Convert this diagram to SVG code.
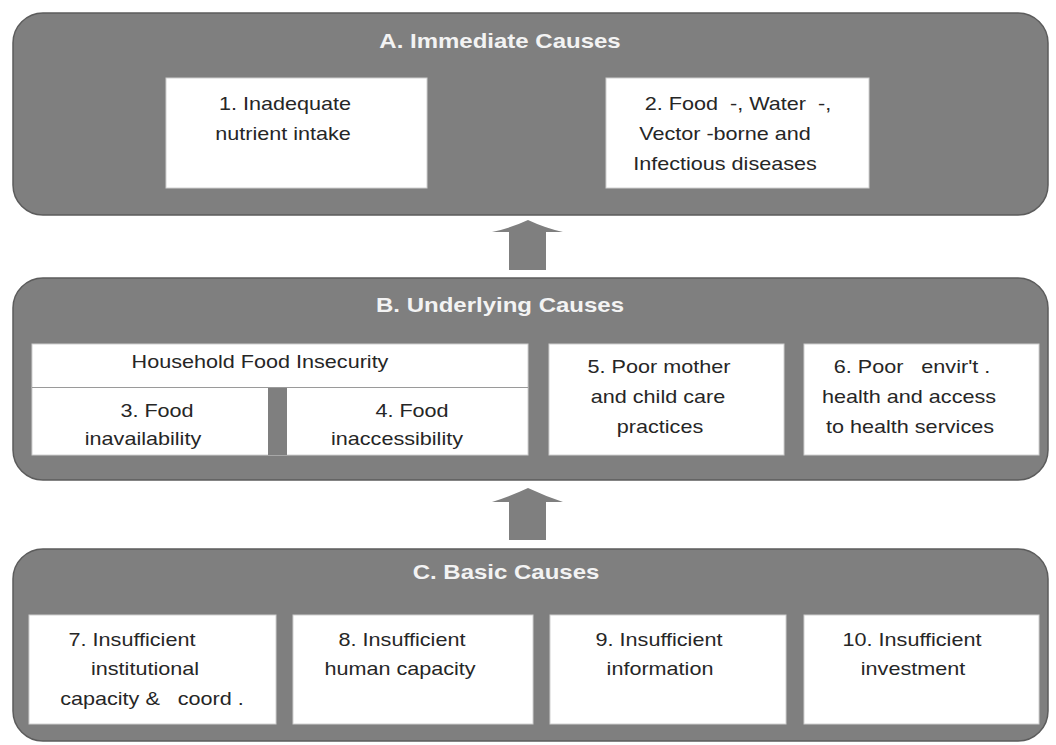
<svg xmlns="http://www.w3.org/2000/svg" width="1056" height="745" viewBox="0 0 1056 745">
<style>
.panel{fill:#7f7f7f;stroke:#5c5c5c;stroke-width:1.5}
.box{fill:#ffffff;stroke:#d0d0d0;stroke-width:1}
.h{font-family:"Liberation Sans",Arial,sans-serif;font-size:20px;font-weight:bold;fill:#f3f3f3;text-anchor:middle;white-space:pre}
.t{font-family:"Liberation Sans",Arial,sans-serif;font-size:18px;fill:#262626;text-anchor:middle;white-space:pre}
.arrow{fill:#7f7f7f}
</style>
<rect width="1056" height="745" fill="#ffffff"/>
<g id="panelA">
<rect class="panel" x="13" y="13" width="1035" height="202" rx="30" ry="30"/>
<text class="h" transform="translate(500,48) scale(1.2,1)">A. Immediate Causes</text>
</g>
<g id="node1">
<rect class="box" x="166" y="78" width="261" height="110"/>
<text class="t" transform="translate(285,110) scale(1.2,1)">1. Inadequate</text>
<text class="t" transform="translate(283,140) scale(1.2,1)">nutrient intake</text>
</g>
<g id="node2">
<rect class="box" x="606" y="78" width="263" height="110"/>
<text class="t" transform="translate(738,110) scale(1.2,1)">2. Food  -, Water  -,</text>
<text class="t" transform="translate(725,140) scale(1.2,1)">Vector -borne and</text>
<text class="t" transform="translate(725,170) scale(1.2,1)">Infectious diseases</text>
</g>
<g id="panelB">
<rect class="panel" x="13" y="278" width="1035" height="202" rx="30" ry="30"/>
<text class="h" transform="translate(500,312) scale(1.2,1)">B. Underlying Causes</text>
</g>
<g id="household">
<rect class="box" x="32" y="344" width="496" height="111"/>
<line x1="32" y1="387.5" x2="528" y2="387.5" stroke="#9a9a9a" stroke-width="1"/>
<rect x="268" y="388" width="19" height="67" fill="#7f7f7f"/>
<text class="t" transform="translate(260,368) scale(1.2,1)">Household Food Insecurity</text>
</g>
<g id="node3">
<text class="t" transform="translate(157,417) scale(1.2,1)">3. Food</text>
<text class="t" transform="translate(143,445) scale(1.2,1)">inavailability</text>
</g>
<g id="node4">
<text class="t" transform="translate(412,417) scale(1.2,1)">4. Food</text>
<text class="t" transform="translate(397,445) scale(1.2,1)">inaccessibility</text>
</g>
<g id="node5">
<rect class="box" x="549" y="344" width="235" height="111"/>
<text class="t" transform="translate(659,373) scale(1.2,1)">5. Poor mother</text>
<text class="t" transform="translate(658,403) scale(1.2,1)">and child care</text>
<text class="t" transform="translate(660,433) scale(1.2,1)">practices</text>
</g>
<g id="node6">
<rect class="box" x="804" y="344" width="235" height="111"/>
<text class="t" transform="translate(912,373) scale(1.2,1)">6. Poor   envir't .</text>
<text class="t" transform="translate(909,403) scale(1.2,1)">health and access</text>
<text class="t" transform="translate(910,433) scale(1.2,1)">to health services</text>
</g>
<g id="panelC">
<rect class="panel" x="13" y="549" width="1035" height="192" rx="30" ry="30"/>
<text class="h" transform="translate(506,579) scale(1.2,1)">C. Basic Causes</text>
</g>
<g id="node7">
<rect class="box" x="29" y="615" width="247" height="109"/>
<text class="t" transform="translate(132,646) scale(1.2,1)">7. Insufficient</text>
<text class="t" transform="translate(145,675) scale(1.2,1)">institutional</text>
<text class="t" transform="translate(152,705) scale(1.2,1)">capacity &amp;   coord .</text>
</g>
<g id="node8">
<rect class="box" x="293" y="615" width="240" height="109"/>
<text class="t" transform="translate(402,646) scale(1.2,1)">8. Insufficient</text>
<text class="t" transform="translate(400,675) scale(1.2,1)">human capacity</text>
</g>
<g id="node9">
<rect class="box" x="550" y="615" width="236" height="109"/>
<text class="t" transform="translate(659,646) scale(1.2,1)">9. Insufficient</text>
<text class="t" transform="translate(660,675) scale(1.2,1)">information</text>
</g>
<g id="node10">
<rect class="box" x="804" y="615" width="235" height="109"/>
<text class="t" transform="translate(912,646) scale(1.2,1)">10. Insufficient</text>
<text class="t" transform="translate(913,675) scale(1.2,1)">investment</text>
</g>
<g id="connectors">
<path class="arrow" d="M528,220 Q545,228 563,232 L546,232 L546,270 L509,270 L509,232 L492,232 Q511,228 528,220 Z"/>
<path class="arrow" d="M528,488 Q545,496 563,502 L546,502 L546,540 L509,540 L509,502 L492,502 Q511,496 528,488 Z"/>
</g>
</svg>
